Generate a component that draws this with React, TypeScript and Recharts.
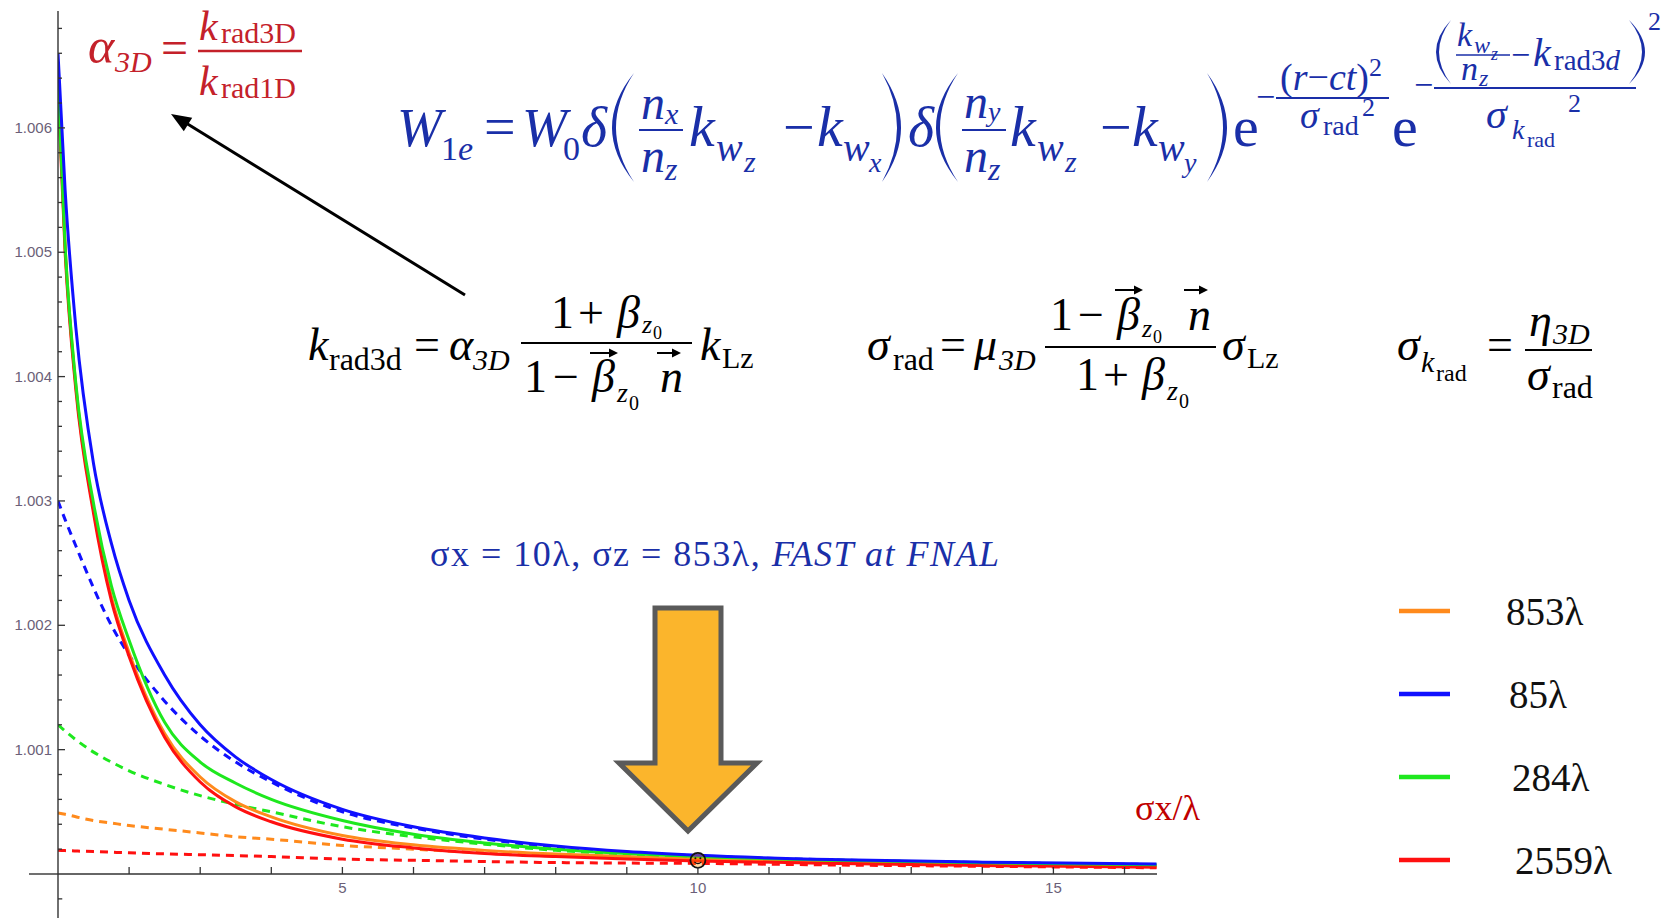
import React from "react";
import { LineChart, Line, XAxis, YAxis, ReferenceLine, ReferenceDot } from "recharts";

// sigma_x / lambda
const sigmaX = [1, 1.1, 1.25, 1.5, 1.75, 2, 2.5, 3, 3.5, 4, 5, 6, 7, 8, 9, 10, 12, 14, 16.45];

// alpha_3D, solid lines
const solid85 = [1.0066, 1.0055, 1.0044, 1.0033, 1.00266, 1.0022, 1.0016, 1.0012, 1.00094, 1.00076, 1.00052, 1.00038, 1.00029, 1.000225, 1.00018, 1.00015, 1.000115, 1.000095, 1.00008];
const solid284 = [1.00635, 1.00505, 1.00395, 1.00298, 1.00232, 1.00188, 1.00122, 1.0009, 1.00073, 1.0006, 1.00043, 1.00032, 1.00025, 1.0002, 1.000165, 1.00014, 1.00011, 1.00009, 1.000075];
const solid853 = [1.0064, 1.00505, 1.00393, 1.00293, 1.00223, 1.00178, 1.00113, 1.00078, 1.00058, 1.00046, 1.00031, 1.000235, 1.00019, 1.00016, 1.00014, 1.00012, 1.000095, 1.000078, 1.000065];
const solid2559 = [1.0063, 1.005, 1.0039, 1.0029, 1.0022, 1.00175, 1.0011, 1.00074, 1.00054, 1.00042, 1.00028, 1.00021, 1.000165, 1.00014, 1.00012, 1.000105, 1.000085, 1.000068, 1.000055];

// alpha_3D, dashed lines
const dashed85 = [1.003, 1.00285, 1.00264, 1.0023, 1.002, 1.00176, 1.00139, 1.00111, 1.0009, 1.00074, 1.0005, 1.00037, 1.00028, 1.000215, 1.000175, 1.000145, 1.000112, 1.000092, 1.000076];
const dashed284 = [1.0012, 1.00115, 1.00108, 1.00098, 1.0009, 1.00083, 1.00072, 1.00063, 1.00056, 1.0005, 1.00038, 1.0003, 1.00024, 1.00019, 1.00016, 1.00013, 1.0001, 1.000085, 1.00007];
const dashed853 = [1.00049, 1.00048, 1.00046, 1.00043, 1.00041, 1.00039, 1.00036, 1.00033, 1.0003, 1.00028, 1.00023, 1.0002, 1.00017, 1.00015, 1.00013, 1.00011, 1.00009, 1.000075, 1.00006];
const dashed2559 = [1.00019, 1.000188, 1.000185, 1.00018, 1.000175, 1.00017, 1.000162, 1.000155, 1.000148, 1.00014, 1.00012, 1.00011, 1.0001, 1.000092, 1.000088, 1.000085, 1.000072, 1.000062, 1.00005];

const xTicks = [2, 3, 4, 5, 6, 7, 8, 9, 10, 11, 12, 13, 14, 15, 16];
const xLabels = [5, 10, 15];
const yTicks = [1.0002, 1.0004, 1.0006, 1.0008, 1.001, 1.0012, 1.0014, 1.0016, 1.0018, 1.002, 1.0022, 1.0024, 1.0026, 1.0028, 1.003, 1.0032, 1.0034, 1.0036, 1.0038, 1.004, 1.0042, 1.0044, 1.0046, 1.0048, 1.005, 1.0052, 1.0054, 1.0056, 1.0058, 1.006, 1.0062, 1.0064, 1.0066, 1.0068];
const yLabels = ["1.001", "1.002", "1.003", "1.004", "1.005", "1.006"];

const legendLabels = ["853λ", "85λ", "284λ", "2559λ"];

const ORANGE = "#ff8a1c";
const BLUE = "#1010ff";
const GREEN = "#1ee81e";
const RED = "#ff1010";
const AXIS = "#333";
const MBLUE = "#1a2fa8";
const MRED = "#c4212a";
const MATH = "'Liberation Serif', 'DejaVu Serif', serif";

const series = [
  { key: "d2559", values: dashed2559, color: RED, dash: true },
  { key: "d853", values: dashed853, color: ORANGE, dash: true },
  { key: "d284", values: dashed284, color: GREEN, dash: true },
  { key: "d85", values: dashed85, color: BLUE, dash: true },
  { key: "s853", values: solid853, color: ORANGE, dash: false },
  { key: "s2559", values: solid2559, color: RED, dash: false },
  { key: "s284", values: solid284, color: GREEN, dash: false },
  { key: "s85", values: solid85, color: BLUE, dash: false },
];
const legendColors = [ORANGE, BLUE, GREEN, RED];

const rows = sigmaX.map((x, i) => {
  const r: Record<string, number> = { x };
  series.forEach((s) => (r[s.key] = s.values[i]));
  return r;
});

const YTick = (p: any) => {
  const v = p.payload.value;
  const lab = yLabels.find((l) => Math.abs(Number(l) - v) < 1e-9);
  return (
    <g>
      <line x1={p.x} x2={p.x + (lab ? 7 : 4)} y1={p.y} y2={p.y} stroke={AXIS} strokeWidth={1.3} />
      {lab && (
        <text x={p.x - 6} y={p.y} dy={5} textAnchor="end" fontSize={15} fontFamily="'Liberation Sans', Arial, sans-serif" fill="#6b5f78">
          {lab}
        </text>
      )}
    </g>
  );
};

const XTick = (p: any) => {
  const v = p.payload.value;
  const lab = xLabels.includes(v);
  return (
    <g>
      <line x1={p.x} x2={p.x} y1={p.y} y2={p.y - 7} stroke={AXIS} strokeWidth={1.3} />
      {lab && (
        <text x={p.x} y={p.y + 19} textAnchor="middle" fontSize={15} fontFamily="'Liberation Sans', Arial, sans-serif" fill="#6b5f78">
          {v}
        </text>
      )}
    </g>
  );
};

const Smiley = (p: any) => (
  <g>
    <circle cx={p.cx} cy={p.cy} r={7.5} fill="rgba(255,150,0,0.35)" stroke="#111" strokeWidth={1.8} />
    <circle cx={p.cx - 2.5} cy={p.cy - 2} r={1} fill="#111" />
    <circle cx={p.cx + 2.5} cy={p.cy - 2} r={1} fill="#111" />
    <path d={`M${p.cx - 3.5} ${p.cy + 1.5} Q${p.cx} ${p.cy + 5} ${p.cx + 3.5} ${p.cy + 1.5}`} fill="none" stroke="#111" strokeWidth={1.2} />
  </g>
);

const LegendBox = () => (
  <svg width={1675} height={918} style={{ position: "absolute", left: 0, top: 0, pointerEvents: "none" }}>
    {legendLabels.map((l, i) => {
      const y = 611 + i * 83;
      return (
        <g key={l}>
          <line x1={1399} x2={1450} y1={y} y2={y} stroke={legendColors[i]} strokeWidth={4.5} />
          <text x={1506 + i * 3} y={y + 14} fontSize={39} fontFamily={MATH} fill="#111">
            {l}
          </text>
        </g>
      );
    })}
  </svg>
);

type TP = { x: number; y: number; s?: number; i?: boolean; c?: string; children: React.ReactNode };
const M = ({ x, y, s = 46, i, c = "#000", children }: TP) => (
  <text x={x} y={y} fontSize={s} fontStyle={i ? "italic" : "normal"} fill={c} fontFamily={MATH}>
    {children}
  </text>
);
const Bar = ({ x1, x2, y, c, w = 2.2 }: { x1: number; x2: number; y: number; c: string; w?: number }) => (
  <line x1={x1} x2={x2} y1={y} y2={y} stroke={c} strokeWidth={w} />
);
const Paren = ({ a, b, top, bot, c, t = 4 }: { a: number; b: number; top: number; bot: number; c: string; t?: number }) => {
  // a: bulge x, b: tips x
  const mid = (top + bot) / 2;
  const dir = b > a ? 1 : -1;
  const c1 = 2 * a - b;
  const c2 = 2 * (a + dir * t) - b;
  return <path d={`M${b} ${top} Q${c1} ${mid} ${b} ${bot} Q${c2} ${mid} ${b} ${top} Z`} fill={c} />;
};
const Vec = ({ x, y, w, c = "#000" }: { x: number; y: number; w: number; c?: string }) => (
  <g>
    <line x1={x} x2={x + w - 4} y1={y} y2={y} stroke={c} strokeWidth={2} />
    <path d={`M${x + w} ${y} l-9 -4.5 l0 9 z`} fill={c} />
  </g>
);

const Formulas = () => (
  <svg width={1675} height={918} style={{ position: "absolute", left: 0, top: 0, pointerEvents: "none" }}>
    {/* alpha_3D */}
    <M x={88} y={63} s={50} i c={MRED}>α</M>
    <M x={115} y={72} s={30} i c={MRED}>3D</M>
    <M x={161} y={64} s={48} c={MRED}>=</M>
    <Bar x1={198} x2={302} y={51} c={MRED} w={2.5} />
    <M x={199} y={40} s={42} i c={MRED}>k</M>
    <M x={221} y={43} s={30} c={MRED}>rad3D</M>
    <M x={199} y={95} s={42} i c={MRED}>k</M>
    <M x={221} y={98} s={30} c={MRED}>rad1D</M>

    {/* arrow */}
    <line x1={465} y1={295} x2={186} y2={123} stroke="#000" strokeWidth={3} />
    <path d="M171 114 L192.2 117.7 L183.8 131.3 Z" fill="#000" />

    {/* W_1e */}
    <M x={397} y={146} s={54} i c={MBLUE}>W</M>
    <M x={441} y={160} s={34} c={MBLUE}>1<tspan fontStyle="italic">e</tspan></M>
    <M x={484} y={146} s={56} c={MBLUE}>=</M>
    <M x={522} y={146} s={54} i c={MBLUE}>W</M>
    <M x={563} y={160} s={34} c={MBLUE}>0</M>
    <M x={581} y={146} s={56} i c={MBLUE}>δ</M>
    <Paren a={612} b={634} top={73} bot={182} c={MBLUE} />
    <Bar x1={639} x2={683} y={130} c={MBLUE} />
    <M x={641} y={119} s={48} i c={MBLUE}>n</M>
    <M x={665} y={124} s={30} i c={MBLUE}>x</M>
    <M x={641} y={172} s={48} i c={MBLUE}>n</M>
    <M x={665} y={180} s={32} i c={MBLUE}>z</M>
    <M x={689} y={146} s={58} i c={MBLUE}>k</M>
    <M x={716} y={161} s={40} i c={MBLUE}>w</M>
    <M x={744} y={172} s={30} i c={MBLUE}>z</M>
    <M x={783} y={146} s={56} c={MBLUE}>−</M>
    <M x={817} y={146} s={58} i c={MBLUE}>k</M>
    <M x={843} y={161} s={40} i c={MBLUE}>w</M>
    <M x={869} y={172} s={28} i c={MBLUE}>x</M>
    <Paren a={901} b={882} top={73} bot={182} c={MBLUE} />
    <M x={908} y={146} s={56} i c={MBLUE}>δ</M>
    <Paren a={936} b={958} top={73} bot={182} c={MBLUE} />
    <Bar x1={962} x2={1006} y={130} c={MBLUE} />
    <M x={964} y={118} s={48} i c={MBLUE}>n</M>
    <M x={988} y={121} s={28} i c={MBLUE}>y</M>
    <M x={964} y={172} s={48} i c={MBLUE}>n</M>
    <M x={988} y={180} s={32} i c={MBLUE}>z</M>
    <M x={1010} y={146} s={58} i c={MBLUE}>k</M>
    <M x={1037} y={161} s={40} i c={MBLUE}>w</M>
    <M x={1065} y={172} s={30} i c={MBLUE}>z</M>
    <M x={1100} y={146} s={56} c={MBLUE}>−</M>
    <M x={1132} y={146} s={58} i c={MBLUE}>k</M>
    <M x={1158} y={161} s={40} i c={MBLUE}>w</M>
    <M x={1184} y={172} s={28} i c={MBLUE}>y</M>
    <Paren a={1227} b={1207} top={73} bot={182} c={MBLUE} />
    <M x={1233} y={146} s={58} c={MBLUE}>e</M>
    <M x={1256} y={108} s={34} c={MBLUE}>−</M>
    <Bar x1={1276} x2={1389} y={98} c={MBLUE} w={2} />
    <M x={1280} y={90} s={38} c={MBLUE}>
      (<tspan fontStyle="italic">r</tspan>−<tspan fontStyle="italic">ct</tspan>)<tspan dy={-14} fontSize={26}>2</tspan>
    </M>
    <M x={1300} y={128} s={38} i c={MBLUE}>σ</M>
    <M x={1323} y={135} s={28} c={MBLUE}>rad</M>
    <M x={1362} y={116} s={26} c={MBLUE}>2</M>
    <M x={1392} y={146} s={58} c={MBLUE}>e</M>
    <M x={1414} y={96} s={34} c={MBLUE}>−</M>
    <Bar x1={1434} x2={1636} y={88} c={MBLUE} w={2} />
    <Paren a={1436} b={1451} top={20} bot={84} c={MBLUE} t={3} />
    <Bar x1={1456} x2={1510} y={55} c={MBLUE} w={1.6} />
    <M x={1457} y={46} s={34} i c={MBLUE}>k</M>
    <M x={1474} y={53} s={24} i c={MBLUE}>w</M>
    <M x={1491} y={60} s={18} i c={MBLUE}>z</M>
    <M x={1461} y={80} s={34} i c={MBLUE}>n</M>
    <M x={1479} y={86} s={24} i c={MBLUE}>z</M>
    <M x={1511} y={66} s={34} c={MBLUE}>−</M>
    <M x={1533} y={66} s={40} i c={MBLUE}>k</M>
    <M x={1554} y={70} s={29} c={MBLUE}>rad3<tspan fontStyle="italic">d</tspan></M>
    <Paren a={1645} b={1629} top={20} bot={84} c={MBLUE} t={3} />
    <M x={1648} y={30} s={26} c={MBLUE}>2</M>
    <M x={1486} y={128} s={42} i c={MBLUE}>σ</M>
    <M x={1512} y={139} s={28} i c={MBLUE}>k</M>
    <M x={1527} y={147} s={22} c={MBLUE}>rad</M>
    <M x={1568} y={112} s={26} c={MBLUE}>2</M>

    {/* k_rad3d */}
    <M x={308} y={360} i>k</M>
    <M x={329} y={370} s={32}>rad3d</M>
    <M x={414} y={360}>=</M>
    <M x={449} y={360} i>α</M>
    <M x={473} y={370} s={30} i>3D</M>
    <Bar x1={521} x2={692} y={343} c="#000" />
    <M x={551} y={328}>1</M>
    <M x={578} y={328}>+</M>
    <M x={617} y={328} i>β</M>
    <M x={642} y={333} s={26} i>z</M>
    <M x={653} y={339} s={18}>0</M>
    <M x={524} y={392}>1</M>
    <M x={553} y={392}>−</M>
    <Vec x={590} y={353} w={28} />
    <M x={592} y={392} i>β</M>
    <M x={617} y={402} s={28} i>z</M>
    <M x={629} y={410} s={20}>0</M>
    <Vec x={657} y={353} w={24} />
    <M x={660} y={392} i>n</M>
    <M x={700} y={360} i>k</M>
    <M x={722} y={368} s={30}>Lz</M>

    {/* sigma_rad */}
    <M x={867} y={360} i>σ</M>
    <M x={893} y={370} s={32}>rad</M>
    <M x={940} y={360}>=</M>
    <M x={974} y={360} i>μ</M>
    <M x={999} y={370} s={30} i>3D</M>
    <Bar x1={1045} x2={1216} y={347} c="#000" />
    <M x={1050} y={330}>1</M>
    <M x={1078} y={330}>−</M>
    <Vec x={1115} y={290} w={28} />
    <M x={1117} y={330} i>β</M>
    <M x={1142} y={337} s={26} i>z</M>
    <M x={1153} y={343} s={18}>0</M>
    <Vec x={1184} y={290} w={24} />
    <M x={1188} y={330} i>n</M>
    <M x={1076} y={390}>1</M>
    <M x={1103} y={390}>+</M>
    <M x={1142} y={390} i>β</M>
    <M x={1167} y={400} s={28} i>z</M>
    <M x={1179} y={408} s={20}>0</M>
    <M x={1222} y={360} i>σ</M>
    <M x={1247} y={368} s={30}>Lz</M>

    {/* sigma_krad */}
    <M x={1397} y={360} i>σ</M>
    <M x={1421} y={372} s={30} i>k</M>
    <M x={1436} y={381} s={24}>rad</M>
    <M x={1487} y={360}>=</M>
    <Bar x1={1525} x2={1592} y={350} c="#000" />
    <M x={1529} y={336} i>η</M>
    <M x={1553} y={344} s={30} i>3D</M>
    <M x={1527} y={390} i>σ</M>
    <M x={1552} y={398} s={32}>rad</M>

    {/* beam note */}
    <text x={430} y={566} fontSize={36} fontFamily={MATH} fill={MBLUE} textLength={569} lengthAdjust="spacing">
      σx = 10λ, σz = 853λ, <tspan fontStyle="italic">FAST at FNAL</tspan>
    </text>

    {/* axis name */}
    <text x={1135} y={820} fontSize={36} fontFamily={MATH} fill="#c00000">σx/λ</text>

    {/* orange arrow */}
    <path d="M655 608 L721 608 L721 763 L757 763 L688 831 L619 763 L655 763 Z" fill="#fbb52c" stroke="#5a5a5a" strokeWidth={5} strokeLinejoin="miter" />
  </svg>
);

export default function App() {
  return (
    <div style={{ position: "absolute", left: 0, top: 0, width: 1675, height: 918, background: "#fff", overflow: "hidden" }}>
      <LineChart width={1675} height={918} data={rows} margin={{ top: 11, right: 518, bottom: 0, left: 0 }}>
        <XAxis
          type="number"
          dataKey="x"
          domain={[1, 16.457]}
          allowDataOverflow
          ticks={xTicks}
          interval={0}
          height={44}
          tickSize={0}
          tickMargin={0}
          tickLine={false}
          tick={XTick}
          axisLine={{ stroke: AXIS, strokeWidth: 1.4 }}
        />
        <YAxis
          type="number"
          domain={[1, 1.00694]}
          allowDataOverflow
          ticks={yTicks}
          interval={0}
          width={58}
          tickSize={0}
          tickMargin={0}
          tickLine={false}
          tick={YTick}
          axisLine={{ stroke: AXIS, strokeWidth: 1.4 }}
        />
        <ReferenceLine segment={[{ x: 0.592, y: 1 }, { x: 1, y: 1 }]} stroke={AXIS} strokeWidth={1.4} ifOverflow="visible" />
        <ReferenceLine segment={[{ x: 1, y: 1 }, { x: 1, y: 0.99964 }]} stroke={AXIS} strokeWidth={1.4} ifOverflow="visible" />
        <ReferenceLine segment={[{ x: 1, y: 0.9998 }, { x: 1.06, y: 0.9998 }]} stroke={AXIS} strokeWidth={1.3} ifOverflow="visible" />
        {series.map((s) => (
          <Line
            key={s.key}
            dataKey={s.key}
            type="monotone"
            stroke={s.color}
            strokeWidth={3}
            strokeDasharray={s.dash ? "8 6" : undefined}
            dot={false}
            isAnimationActive={false}
            legendType="none"
          />
        ))}
        <ReferenceDot x={10} y={1.00011} r={7.5} shape={Smiley} ifOverflow="visible" />
      </LineChart>
      <LegendBox />
      <Formulas />
    </div>
  );
}
